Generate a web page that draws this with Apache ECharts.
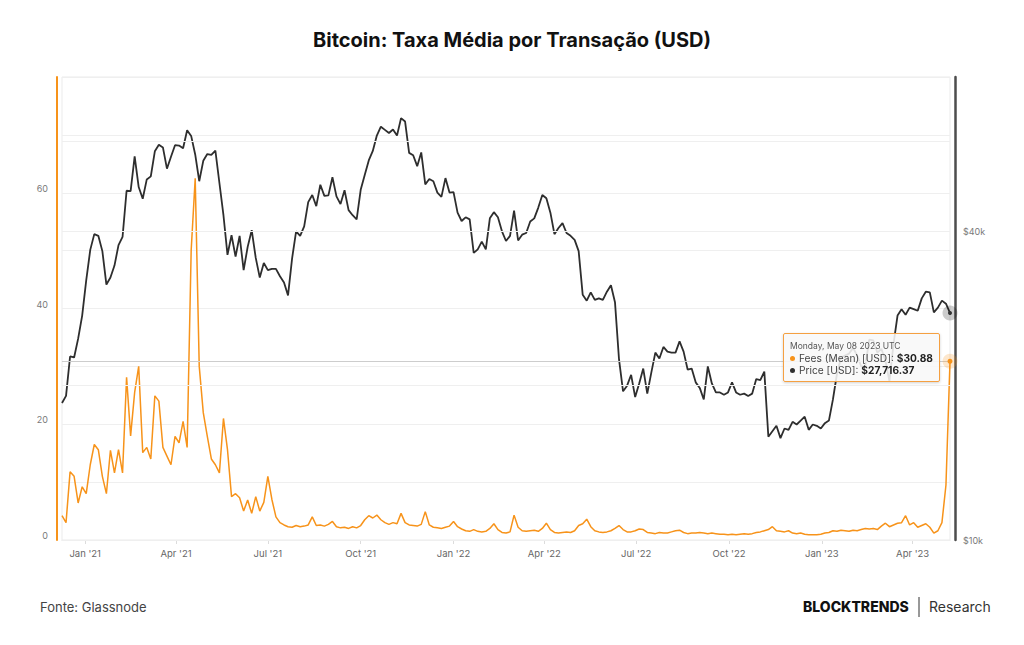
<!DOCTYPE html>
<html lang="pt">
<head>
<meta charset="utf-8">
<title>Bitcoin: Taxa Média por Transação (USD)</title>
<script src="https://cdn.jsdelivr.net/npm/echarts@6/dist/echarts.min.js"></script>
<style>
  html, body { margin: 0; padding: 0; background: #fff; }
  #chart { width: 1024px; height: 645px; }
</style>
</head>
<body>
<div id="chart"></div>
<script>
const startDate = '2020-12-09';
const stepDays = 4;

// preço do BTC em USD
const priceUsd = [
  18500, 19100, 22800, 22700, 24700, 27400, 32100, 36800, 39500, 39200,
  36600, 31500, 32500, 34300, 37600, 39000, 48000, 47900, 56000, 48800,
  46300, 50500, 51200, 57300, 59000, 58300, 53000, 55900, 58900, 58800,
  58100, 63000, 61400, 56500, 50100, 54900, 56600, 56400, 57500, 49700,
  43000, 36000, 39300, 35700, 39200, 33600, 37300, 40200, 35500, 32500,
  34700, 33600, 33800, 33800, 32700, 31800, 30000, 35400, 40000, 39200,
  40900, 45600, 47100, 44800, 49300, 46900, 47000, 51000, 46800, 45200,
  48100, 44000, 43000, 42200, 48200, 51500, 55000, 57400, 61500, 64000,
  63100, 62200, 63200, 61500, 66500, 65500, 56900, 56300, 53600, 57000,
  49400, 50600, 50100, 47600, 46700, 50800, 47600, 47700, 43500, 41900,
  42600, 42200, 36300, 36900, 38200, 36900, 42400, 43600, 42600, 40000,
  38300, 39200, 43900, 38400, 39400, 39700, 41800, 42400, 44500, 47100,
  46400, 43500, 39500, 40600, 41500, 39700, 39200, 38500, 36600, 30100,
  29300, 30400, 29400, 29600, 29400, 30500, 31400, 29100, 22500, 19500,
  20000, 21000, 19000, 20200, 21600, 19300, 21200, 23200, 22600, 23800,
  23300, 23200, 23200, 24400, 23300, 21500, 21600, 20300, 19800, 18800,
  21800, 20200, 19400, 19400, 19200, 19400, 20300, 19400, 19200, 19300,
  19100, 19300, 20600, 20500, 21300, 15900, 16300, 16700, 15800, 16500,
  16400, 17000, 16800, 17100, 17400, 16400, 16800, 16700, 16500, 16900,
  17100, 18800, 21100, 22700, 22900, 23100, 23700, 22900, 21800, 21800,
  24600, 24500, 23200, 23600, 22400, 20400, 24100, 27400, 28200, 27500,
  28400, 28200, 28000, 29600, 30500, 30400, 27800, 28400, 29300, 28900,
  27716.37
];

// taxa média por transação em USD
const feesMeanUsd = [
  4.2, 3.0, 11.8, 11.0, 6.4, 9.2, 8.0, 13.0, 16.5, 15.6,
  11.0, 8.0, 15.5, 11.6, 15.6, 11.6, 28.1, 18.0, 25.5, 30.0,
  15.1, 16.0, 14.0, 24.9, 24.0, 16.0, 14.5, 13.0, 17.9, 16.8,
  20.5, 16.0, 50.0, 62.5, 30.0, 22.0, 17.9, 14.0, 13.0, 11.6,
  21.0, 15.6, 7.5, 8.0, 7.3, 5.0, 6.9, 4.6, 7.5, 5.0,
  6.5, 11.0, 7.0, 4.0, 3.0, 2.6, 2.3, 2.2, 2.5, 2.3,
  2.4, 2.6, 4.0, 2.5, 2.6, 2.4, 2.7, 3.2, 2.3, 2.1,
  2.2, 2.0, 2.3, 2.1, 2.5, 3.5, 4.2, 3.8, 4.3, 3.5,
  3.0, 2.7, 3.0, 2.8, 4.6, 3.0, 2.6, 2.5, 2.4, 2.7,
  4.9, 2.6, 2.2, 2.1, 2.0, 2.2, 2.4, 3.2, 2.3, 1.9,
  1.6, 1.5, 1.8, 1.5, 1.4, 1.5, 2.0, 2.8, 1.8, 1.3,
  1.2, 1.4, 4.3, 2.2, 1.6, 1.5, 1.6, 1.7, 1.5, 2.0,
  2.9, 1.8, 1.3, 1.2, 1.3, 1.4, 1.3, 1.6, 2.5, 2.8,
  3.6, 2.3, 1.6, 1.4, 1.3, 1.4, 1.6, 2.0, 2.5, 1.8,
  1.4, 1.4, 1.6, 1.9, 1.8, 1.3, 1.2, 1.1, 1.3, 1.2,
  1.2, 1.4, 1.6, 1.7, 1.3, 1.1, 1.2, 1.2, 1.3, 1.2,
  1.1, 1.2, 1.1, 1.0, 1.0, 0.9, 1.0, 0.9, 1.0, 1.1,
  1.0, 1.1, 1.3, 1.4, 1.6, 1.8, 2.3, 1.6, 1.5, 1.4,
  1.6, 1.2, 1.1, 1.2, 1.0, 0.9, 0.9, 0.9, 1.0, 1.2,
  1.3, 1.6, 1.5, 1.7, 1.6, 1.5, 1.7, 1.6, 1.8, 2.0,
  1.9, 2.0, 1.8, 2.4, 2.9, 2.3, 2.6, 2.9, 3.0, 4.2,
  2.6, 3.0, 2.2, 2.5, 2.8, 2.2, 1.2, 1.6, 3.0, 9.5,
  30.88
];

const xTickDates = ['2021-01-01', '2021-04-01', '2021-07-01', '2021-10-01', '2022-01-01',
  '2022-04-01', '2022-07-01', '2022-10-01', '2023-01-01', '2023-04-01'];
const xTickLabels = ["Jan '21", "Apr '21", "Jul '21", "Oct '21", "Jan '22",
  "Apr '22", "Jul '22", "Oct '22", "Jan '23", "Apr '23"];
const feeTickLabels = [0, 20, 40, 60];
const priceGridValues = [20000, 60000];
const priceTickValues = [10000, 40000];
const priceTickLabels = ['$10k', '$40k'];

const FONT = 'Inter, "Noto Sans", sans-serif';
const ORANGE = '#f7931a';
const DARK = '#2e2e2e';
const GRID = '#efefef';
const DAY = 86400000;

const t0 = Date.parse(startDate + 'T00:00:00Z');
const dates = priceUsd.map((_, i) => t0 + i * stepDays * DAY);
const last = dates.length - 1;
const xTicks = xTickDates.map((d) => Date.parse(d + 'T00:00:00Z'));

const weekdays = ['Sunday', 'Monday', 'Tuesday', 'Wednesday', 'Thursday', 'Friday', 'Saturday'];
const monthNames = ['January', 'February', 'March', 'April', 'May', 'June', 'July',
  'August', 'September', 'October', 'November', 'December'];

function tipRow(color, name, value) {
  return '<div style="line-height:12px">' +
    '<span style="display:inline-block;width:5px;height:5px;border-radius:50%;background:' + color +
    ';margin-right:4px;vertical-align:1px"></span>' + name + ': <b style="font-weight:700;color:#222">' + value + '</b></div>';
}

const chart = echarts.init(document.getElementById('chart'), null, { renderer: 'svg' });

const option = {
  animation: false,
  backgroundColor: '#fff',
  title: {
    text: 'Bitcoin: Taxa Média por Transação (USD)',
    left: 'center',
    top: 25,
    textStyle: { fontSize: 20, fontWeight: 700, color: '#111', fontFamily: FONT },
  },
  grid: {
    left: 62,
    right: 74,
    top: 77,
    bottom: 105,
    show: true,
    borderColor: '#ebebeb',
    borderWidth: 1,
  },
  tooltip: {
    trigger: 'axis',
    triggerOn: 'none',
    alwaysShowContent: true,
    showDelay: 0,
    transitionDuration: 0,
    axisPointer: { type: 'none' },
    position: [783, 333],
    backgroundColor: 'rgba(248,248,248,0.88)',
    borderColor: '#f5a041',
    borderWidth: 1,
    padding: [6, 6, 5, 6],
    extraCssText: 'border:1px solid #f5a041 !important;border-radius:2px;box-shadow:0 1px 3px rgba(0,0,0,0.18);',
    textStyle: { color: '#444', fontSize: 10.2, fontFamily: FONT },
    formatter: (params) => {
      const d = new Date(params[0].value[0]);
      const head = weekdays[d.getUTCDay()] + ', ' + monthNames[d.getUTCMonth()] + ' ' +
        String(d.getUTCDate()).padStart(2, '0') + ' ' + d.getUTCFullYear() + ' UTC';
      let html = '<div style="font-size:8.5px;line-height:12px;color:#555">' + head + '</div>';
      params.forEach((p) => {
        const v = p.value[1];
        const txt = '$' + v.toLocaleString('en-US', { minimumFractionDigits: 2, maximumFractionDigits: 2 });
        html += tipRow(p.color, p.seriesName, txt);
      });
      return html;
    },
  },
  xAxis: {
    // eixo numérico em milissegundos; rótulos nos inícios de trimestre
    type: 'value',
    min: dates[0],
    max: dates[last],
    axisLine: { lineStyle: { color: '#e2e2e2' } },
    axisTick: { show: true, customValues: xTicks, length: 4, lineStyle: { color: '#dcdcdc' } },
    axisLabel: {
      customValues: xTicks,
      color: '#666',
      fontSize: 9.5,
      margin: 8,
      fontFamily: FONT,
      formatter: (v) => {
        const k = xTicks.findIndex((t) => Math.abs(t - v) < DAY);
        return k >= 0 ? xTickLabels[k] : '';
      },
    },
    splitLine: { show: false },
  },
  yAxis: [
    {
      type: 'value',
      position: 'left',
      min: 0,
      max: 80,
      interval: 10,
      offset: 5,
      axisLine: { show: true, lineStyle: { color: ORANGE, width: 2 } },
      axisTick: { show: false },
      axisLabel: {
        color: '#7a7a7a',
        fontSize: 9,
        margin: 9,
        verticalAlign: 'bottom',
        fontFamily: FONT,
        formatter: (v) => (feeTickLabels.includes(v) ? String(v) : ''),
      },
      splitLine: { lineStyle: { color: GRID } },
    },
    {
      type: 'log',
      logBase: 10,
      position: 'right',
      min: 10000,
      max: 80000,
      offset: 5,
      axisLine: { show: true, lineStyle: { color: '#4d4d4d', width: 2.5 } },
      axisTick: { show: false },
      axisLabel: { show: false },
      splitLine: { show: false },
    },
  ],
  series: [
    {
      name: 'Fees (Mean) [USD]',
      type: 'line',
      yAxisIndex: 0,
      data: dates.map((d, i) => [d, feesMeanUsd[i]]),
      symbol: 'none',
      color: ORANGE,
      lineStyle: { color: ORANGE, width: 1.5 },
      emphasis: { disabled: true },
      z: 3,
      markLine: {
        silent: true,
        symbol: 'none',
        animation: false,
        label: { show: false },
        lineStyle: { color: '#cdcdcd', width: 1.2, type: 'solid' },
        data: [{ yAxis: feesMeanUsd[last] }],
      },
      markPoint: {
        silent: true,
        animation: false,
        symbol: 'circle',
        label: { show: false },
        data: [
          { coord: [dates[last], feesMeanUsd[last]], symbolSize: 15, itemStyle: { color: 'rgba(247,147,26,0.22)' } },
          { coord: [dates[last], feesMeanUsd[last]], symbolSize: 5, itemStyle: { color: ORANGE } },
        ],
      },
    },
    {
      name: 'Price [USD]',
      type: 'line',
      yAxisIndex: 1,
      data: dates.map((d, i) => [d, priceUsd[i]]),
      symbol: 'none',
      color: DARK,
      lineStyle: { color: DARK, width: 1.8 },
      emphasis: { disabled: true },
      z: 2,
      markLine: {
        // linhas de grade e rótulos do eixo de preço (escala log)
        silent: true,
        symbol: 'none',
        animation: false,
        lineStyle: { color: GRID, width: 1, type: 'solid' },
        label: { show: false },
        data: priceGridValues.map((v) => ({ yAxis: v })).concat(
          priceTickValues.map((v, k) => ({
            yAxis: v,
            label: {
              show: true,
              position: 'end',
              distance: 13,
              formatter: priceTickLabels[k],
              color: '#7a7a7a',
              fontSize: 9,
              fontFamily: FONT,
              padding: [0, 0, 9, 0],
            },
          }))
        ),
      },
      markPoint: {
        silent: true,
        animation: false,
        symbol: 'circle',
        label: { show: false },
        data: [
          { coord: [dates[last], priceUsd[last]], symbolSize: 15, itemStyle: { color: 'rgba(0,0,0,0.2)' } },
          { coord: [dates[last], priceUsd[last]], symbolSize: 4, itemStyle: { color: '#333' } },
        ],
      },
    },
  ],
  graphic: [
    {
      type: 'text',
      left: 40,
      top: 600,
      style: { text: 'Fonte: Glassnode', fontSize: 13, fill: '#444', fontFamily: FONT },
    },
    {
      type: 'text',
      left: 803,
      top: 599,
      style: { text: 'BLOCKTRENDS', fontSize: 14, fontWeight: 800, fill: '#111', fontFamily: FONT },
    },
    {
      type: 'line',
      shape: { x1: 919, y1: 597, x2: 919, y2: 617 },
      style: { stroke: '#333', lineWidth: 1 },
    },
    {
      type: 'text',
      left: 929,
      top: 599,
      style: { text: 'Research', fontSize: 14, fill: '#333', fontFamily: FONT },
    },
  ],
};

chart.setOption(option, true);
chart.dispatchAction({ type: 'showTip', seriesIndex: 0, dataIndex: last });
</script>
</body>
</html>
